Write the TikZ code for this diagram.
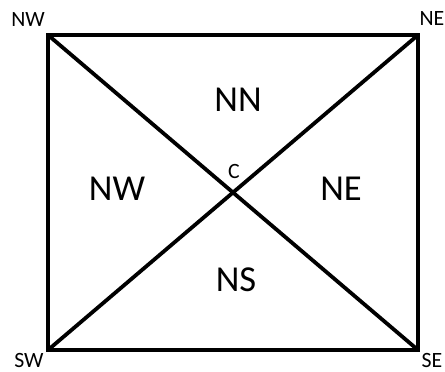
\documentclass[tikz,border=0pt]{standalone}
\usepackage{fontspec}
\setmainfont{Carlito}
\usetikzlibrary{calc}

\tikzset{
  corner/.style={inner sep=0pt, font=\fontsize{15.5}{18}\selectfont},
  region/.style={inner sep=0pt, font=\fontsize{26}{30}\selectfont},
  edge/.style={line width=2.7pt, line join=miter}
}

\begin{document}
\begin{tikzpicture}[x=0.025cm, y=-0.025cm]
\useasboundingbox (0,0) rectangle (445,371);
\begin{scope}
\coordinate (nw) at (48,35);
\coordinate (ne) at (418,35);
\coordinate (sw) at (48,350);
\coordinate (se) at (418,350);
\coordinate (c) at ($(nw)!0.5!(se)$);

\node[corner] (lnw) at (28,20) {NW};
\node[corner] (lne) at (432,19) {NE};
\node[corner] (lsw) at (29,360) {SW};
\node[corner] (lse) at (432,360) {SE};
\node[corner] (lc) at (234,171) {C};

\node[region] (nn) at (238,100) {NN};
\node[region] (rnw) at (117,189) {NW};
\node[region] (rne) at (341,189) {NE};
\node[region] (ns) at (236,280) {NS};

\draw[edge](nw)--(ne)--(se)--(sw)--cycle;
\draw[edge](nw)to(se);
\draw[edge](sw)to(ne);
\end{scope}
\end{tikzpicture}
\end{document}
